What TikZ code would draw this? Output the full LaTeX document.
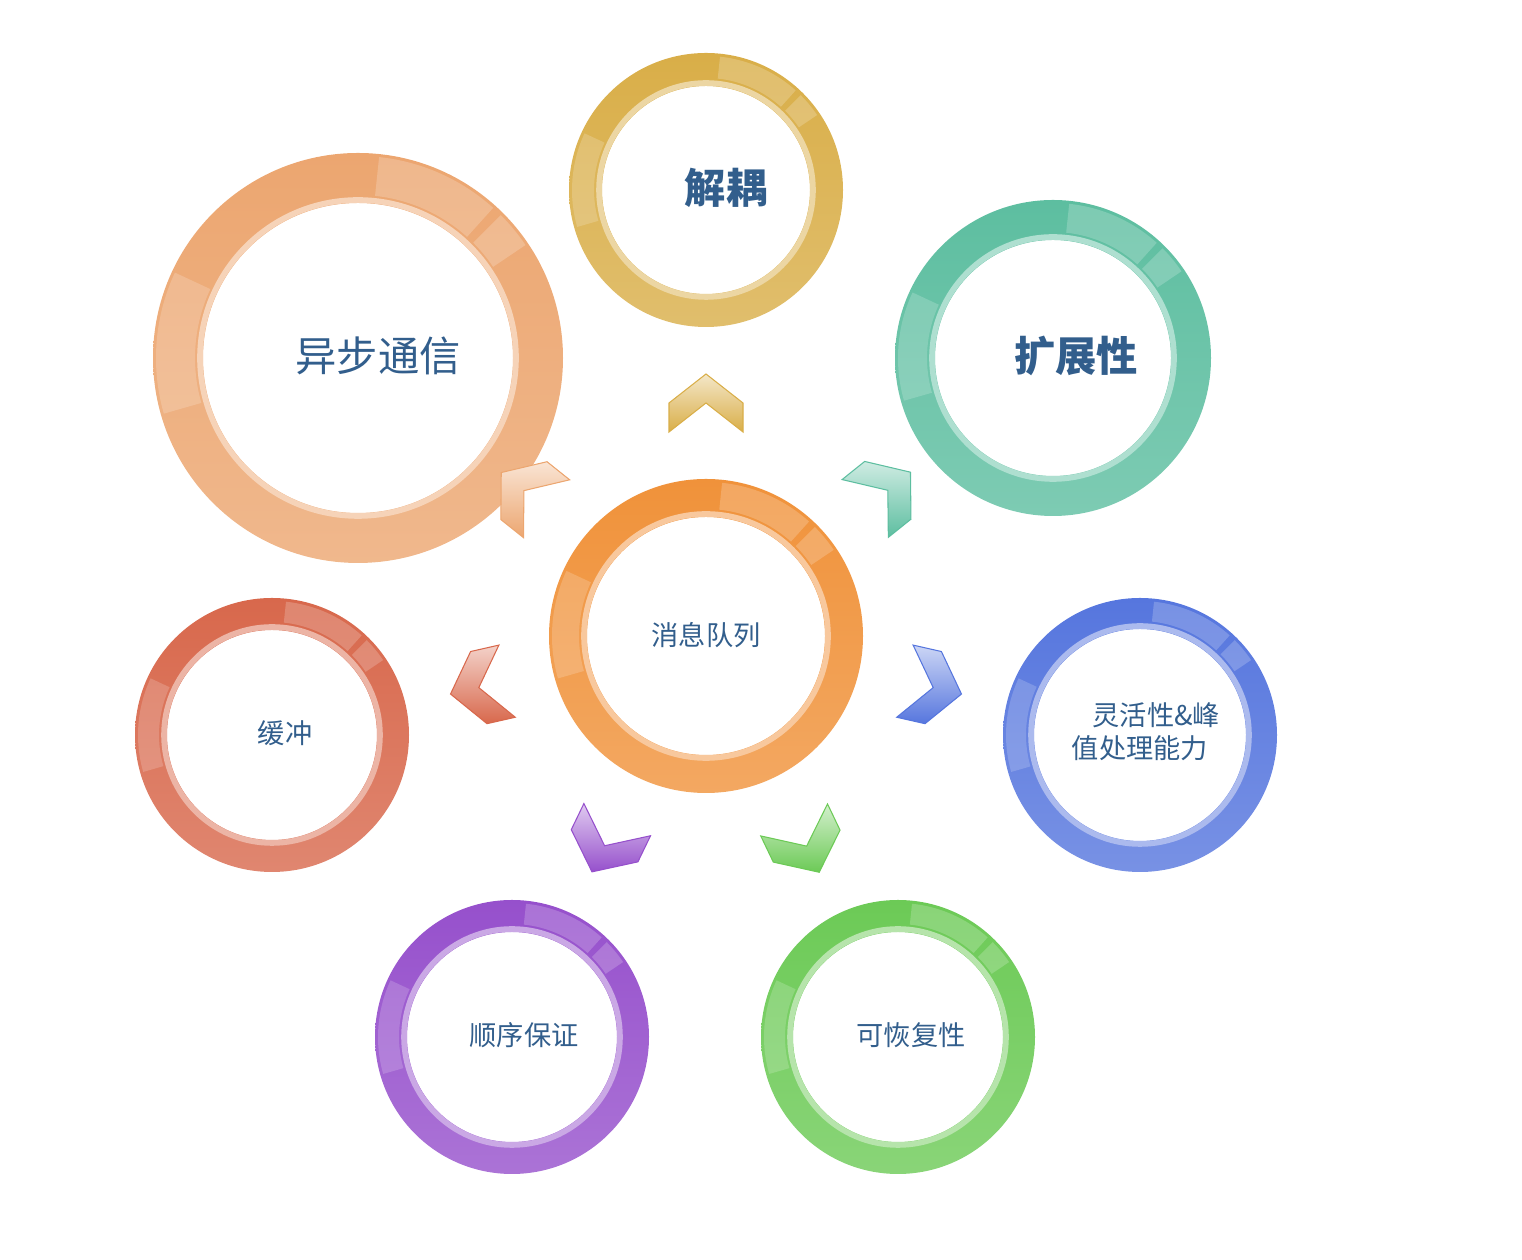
\documentclass[tikz,border=0pt]{standalone}
\usepackage{fontspec}
\newfontfamily\cjk{Noto Sans CJK SC}
\usetikzlibrary{calc}

\definecolor{txtblue}{RGB}{50,94,140}
\definecolor{cmq}{RGB}{240,146,58}
\definecolor{cjo}{RGB}{217,174,72}
\definecolor{cab}{RGB}{236,166,112}
\definecolor{ckz}{RGB}{93,190,160}
\definecolor{chc}{RGB}{216,104,76}
\definecolor{clh}{RGB}{86,118,222}
\definecolor{csx}{RGB}{150,80,204}
\definecolor{ckh}{RGB}{108,202,86}

\tikzset{
  lbl/.style={font=\cjk\fontsize{15.5}{19}\selectfont, text=txtblue, align=center, inner sep=0pt},
  biglbl/.style={lbl, font=\cjk\fontsize{23.5}{28}\selectfont},
  boldlbl/.style={lbl, font=\cjk\bfseries\fontsize{23.5}{28}\selectfont},
}

% ring: centre, outer radius, inner radius, colour
\newcommand{\ring}[4]{%
  \shade[top color=#4, bottom color=#4!80!white, even odd rule] (#1) circle[radius=#2] (#1) circle[radius=#3];
  \draw[#4!50!white, line width=3.2pt] (#1) circle[radius=#3+3];
  \fill[white, opacity=.2] ($(#1)+(48:#2-3)$) arc[start angle=48, end angle=84, radius=#2-3]
    -- ($(#1)+(84:#3+8)$) arc[start angle=84, end angle=48, radius=#3+8] -- cycle;
  \fill[white, opacity=.2] ($(#1)+(34:#2-3)$) arc[start angle=34, end angle=45, radius=#2-3]
    -- ($(#1)+(45:#3+8)$) arc[start angle=45, end angle=34, radius=#3+8] -- cycle;
  \fill[white, opacity=.18] ($(#1)+(155:#2-3)$) arc[start angle=155, end angle=196, radius=#2-3]
    -- ($(#1)+(196:#3+8)$) arc[start angle=196, end angle=155, radius=#3+8] -- cycle;
}

% chevron pointing away from the centre: angle, colour
\newcommand{\chev}[2]{%
  \begin{scope}[shift={(mq)}, rotate=#1]
    \shade[top color=#2!30!white, bottom color=#2, draw=#2, line width=.6pt]
      (262,0) -- (233,37) -- (204,37) -- (233,0) -- (204,-37) -- (233,-37) -- cycle;
  \end{scope}}

\begin{document}
\begin{tikzpicture}[x=0.02cm, y=0.02cm]
  \useasboundingbox (0,0) rectangle (1522,1260);

  \coordinate (mq) at (706,624);
  \coordinate (jo) at (706,1070);
  \coordinate (ab) at (358,902);
  \coordinate (kz) at (1053,902);
  \coordinate (hc) at (272,525);
  \coordinate (lh) at (1140,525);
  \coordinate (sx) at (512,223);
  \coordinate (kh) at (898,223);

  \ring{ab}{205}{155}{cab}
  \ring{jo}{137}{104}{cjo}
  \ring{kz}{158}{118}{ckz}
  \ring{hc}{137}{105}{chc}
  \ring{lh}{137}{106}{clh}
  \ring{sx}{137}{105}{csx}
  \ring{kh}{137}{105}{ckh}
  \ring{mq}{157}{119}{cmq}

  \chev{90}{cjo}
  \chev{141.4}{cab}
  \chev{38.7}{ckz}
  \chev{192.8}{chc}
  \chev{-12.8}{clh}
  \chev{244.2}{csx}
  \chev{-64.4}{ckh}

  \node[lbl] (tmq) at (706,625) {消息队列};
  \node[boldlbl] (tjo) at (726,1072) {解耦};
  \node[biglbl] (tab) at (378,904) {异步通信};
  \node[boldlbl] (tkz) at (1076,904) {扩展性};
  \node[lbl] (thc) at (285,527) {缓冲};
  \node[lbl] (tlh) at (1140,528) {\hspace*{1.2em}灵活性\&峰\\值处理能力};
  \node[lbl] (tsx) at (524,225) {顺序保证};
  \node[lbl] (tkh) at (911,225) {可恢复性};
\end{tikzpicture}
\end{document}
